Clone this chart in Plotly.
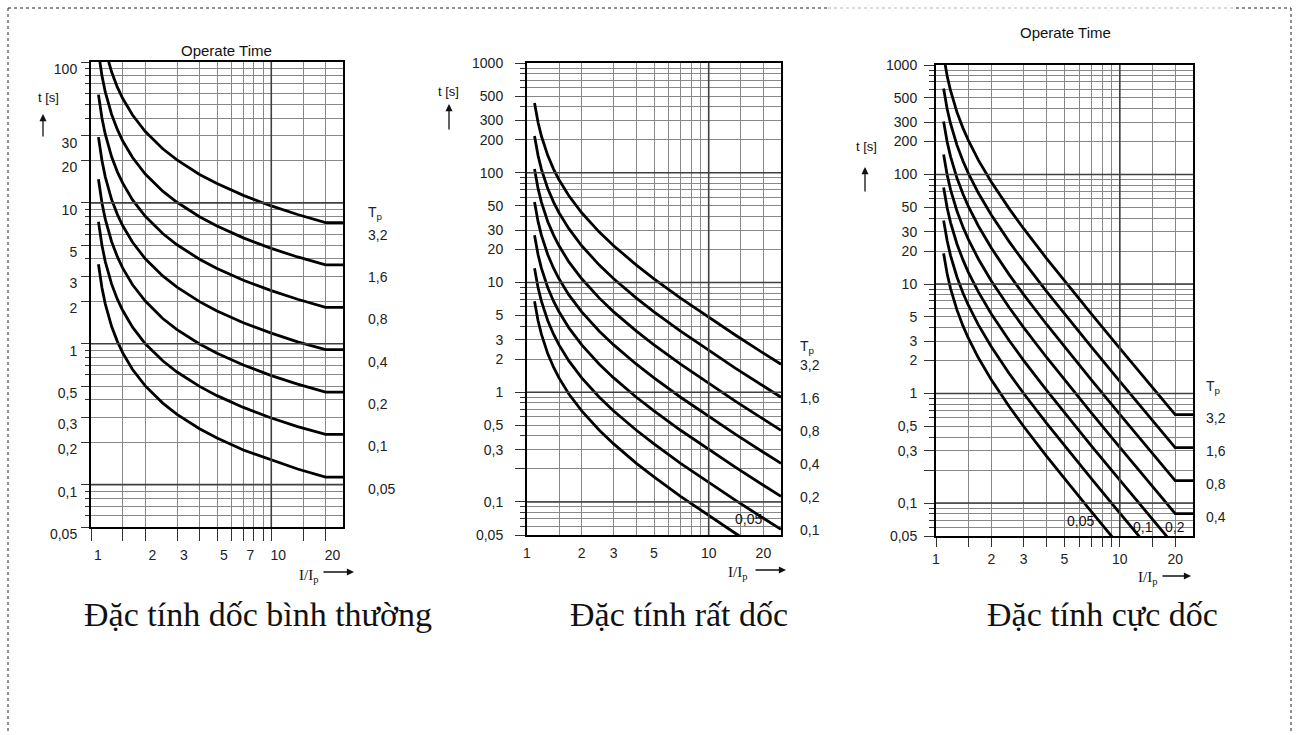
import numpy as np
import plotly.graph_objects as go

W, H = 1298, 735

# ---------------- data ----------------
I_ratio = [1.1, 1.15, 1.2, 1.3, 1.4, 1.5, 1.7, 2, 2.5, 3, 4, 5, 7, 10, 14, 20, 25]
tp_labels = ["3,2", "1,6", "0,8", "0,4", "0,2", "0,1", "0,05"]

# normal inverse
n_32 = [234.8, 160.0, 122.6, 85.2, 66.3, 55.0, 42.0, 32.1, 24.2, 20.2, 15.9, 13.7, 11.3, 9.51, 8.27, 7.25, 7.25]
n_16 = [117.4, 80.0, 61.3, 42.6, 33.2, 27.5, 21.0, 16.0, 12.1, 10.1, 7.97, 6.85, 5.64, 4.75, 4.13, 3.63, 3.63]
n_08 = [58.7, 40.0, 30.7, 21.3, 16.6, 13.8, 10.5, 8.02, 6.06, 5.04, 3.98, 3.42, 2.82, 2.38, 2.07, 1.81, 1.81]
n_04 = [29.3, 20.0, 15.3, 10.6, 8.29, 6.88, 5.25, 4.01, 3.03, 2.52, 1.99, 1.71, 1.41, 1.19, 1.03, 0.907, 0.907]
n_02 = [14.7, 10.0, 7.66, 5.32, 4.15, 3.44, 2.62, 2.01, 1.51, 1.26, 0.996, 0.856, 0.706, 0.594, 0.517, 0.453, 0.453]
n_01 = [7.34, 5.00, 3.83, 2.66, 2.07, 1.72, 1.31, 1.00, 0.757, 0.630, 0.498, 0.428, 0.353, 0.297, 0.258, 0.227, 0.227]
n_005 = [3.67, 2.50, 1.92, 1.33, 1.04, 0.860, 0.656, 0.502, 0.379, 0.315, 0.249, 0.214, 0.176, 0.149, 0.129, 0.113, 0.113]

# very inverse
v_32 = [432, 288, 216, 144, 108, 86.4, 61.7, 43.2, 28.8, 21.6, 14.4, 10.8, 7.2, 4.8, 3.32, 2.27, 1.80]
v_16 = [216, 144, 108, 72, 54, 43.2, 30.9, 21.6, 14.4, 10.8, 7.2, 5.4, 3.6, 2.4, 1.66, 1.14, 0.90]
v_08 = [108, 72, 54, 36, 27, 21.6, 15.4, 10.8, 7.2, 5.4, 3.6, 2.7, 1.8, 1.2, 0.831, 0.568, 0.45]
v_04 = [54, 36, 27, 18, 13.5, 10.8, 7.71, 5.4, 3.6, 2.7, 1.8, 1.35, 0.9, 0.6, 0.415, 0.284, 0.225]
v_02 = [27, 18, 13.5, 9, 6.75, 5.4, 3.86, 2.7, 1.8, 1.35, 0.9, 0.675, 0.45, 0.3, 0.208, 0.142, 0.1125]
v_01 = [13.5, 9, 6.75, 4.5, 3.38, 2.7, 1.93, 1.35, 0.9, 0.675, 0.45, 0.338, 0.225, 0.15, 0.104, 0.0711, 0.0563]
v_005 = [6.75, 4.5, 3.38, 2.25, 1.69, 1.35, 0.964, 0.675, 0.45, 0.338, 0.225, 0.169, 0.1125, 0.075, 0.0519, 0.0355, 0.0281]

# extremely inverse
e_32 = [1219, 794, 582, 371, 266.7, 204.8, 135.4, 85.3, 48.8, 32, 17.07, 10.67, 5.33, 2.586, 1.313, 0.642, 0.642]
e_16 = [609.5, 396.9, 290.9, 185.5, 133.3, 102.4, 67.7, 42.7, 24.4, 16, 8.53, 5.33, 2.67, 1.293, 0.656, 0.321, 0.321]
e_08 = [304.8, 198.4, 145.5, 92.8, 66.7, 51.2, 33.9, 21.3, 12.19, 8, 4.27, 2.67, 1.333, 0.646, 0.328, 0.160, 0.160]
e_04 = [152.4, 99.2, 72.7, 46.4, 33.3, 25.6, 16.93, 10.67, 6.10, 4, 2.133, 1.333, 0.667, 0.323, 0.164, 0.0802, 0.0802]
e_02 = [76.2, 49.6, 36.4, 23.2, 16.7, 12.8, 8.47, 5.33, 3.05, 2, 1.067, 0.667, 0.333, 0.162, 0.0821, 0.0401, 0.0401]
e_01 = [38.1, 24.8, 18.2, 11.6, 8.33, 6.4, 4.23, 2.67, 1.524, 1, 0.533, 0.333, 0.1667, 0.0808, 0.0410, 0.0200, 0.0200]
e_005 = [19.05, 12.4, 9.09, 5.80, 4.17, 3.2, 2.12, 1.333, 0.762, 0.5, 0.267, 0.1667, 0.0833, 0.0404, 0.0205, 0.0100, 0.0100]

x_labels_1 = [1, 2, 3, 5, 7, 10, 20]
x_labels_23 = [1, 2, 3, 5, 10, 20]
y_labels_1 = [100, 30, 20, 10, 5, 3, 2, 1, 0.5, 0.3, 0.2, 0.1, 0.05]
y_labels_23 = [1000, 500, 300, 200, 100, 50, 30, 20, 10, 5, 3, 2, 1, 0.5, 0.3, 0.2, 0.1, 0.05]
y_text_23 = ["1000", "500", "300", "200", "100", "50", "30", "20", "10", "5", "3", "2", "1",
             "0,5", "0,3", "", "0,1", "0,05"]
captions = ["Đặc tính dốc bình thường", "Đặc tính rất dốc", "Đặc tính cực dốc"]

normal_curves = [n_32, n_16, n_08, n_04, n_02, n_01, n_005]
very_curves = [v_32, v_16, v_08, v_04, v_02, v_01, v_005]
extreme_curves = [e_32, e_16, e_08, e_04, e_02, e_01, e_005]

# ---------------- helpers ----------------
def px(x):
    return x / W

def py(y):
    return 1 - y / H

def fmt(v):
    return ("%g" % v).replace(".", ",")

grid_x = [1.5, 2, 3, 4, 5, 6, 7, 8, 9, 10, 15, 20]
grid_y = [round(m * 10.0 ** e, 6) for e in range(-2, 4) for m in range(1, 10)]
grid_y = [v for v in grid_y if 0.05 <= v <= 1000]

SANS = "Liberation Sans, Arial, sans-serif"
SERIF = "Liberation Serif, Times New Roman, serif"
GRID = "#888888"

def x_axis(domain, labels, ticklen, anchor, shift, standoff):
    minor_vals = [v for v in grid_x if v not in labels]
    tk = "outside" if ticklen > 0 else ""
    return dict(
        type="log", domain=domain, range=[0, np.log10(25)], anchor=anchor,
        showline=True, linecolor="black", linewidth=2, mirror=True,
        tickmode="array", tickvals=labels, ticktext=[fmt(v) for v in labels],
        ticks=tk, ticklen=max(ticklen, 1), tickwidth=1, tickcolor="#333",
        showgrid=True, gridcolor=GRID, gridwidth=1, zeroline=False,
        minor=dict(tickmode="array", tickvals=minor_vals,
                   ticks=tk, ticklen=max(ticklen, 1), tickwidth=1,
                   tickcolor="#333", showgrid=True, gridcolor=GRID, gridwidth=1),
        tickfont=dict(family=SANS, size=14, color="#222"),
        ticklabelshift=shift, ticklabelstandoff=standoff, fixedrange=True,
    )

def y_axis(domain, labels, texts, top, anchor, shift, standoff, majlen, minlen):
    lab_r = [round(l, 6) for l in labels]
    minor_vals = [v for v in grid_y if v <= top and round(v, 6) not in lab_r]
    return dict(
        type="log", domain=domain, range=[np.log10(0.05), np.log10(top)], anchor=anchor,
        showline=True, linecolor="black", linewidth=2, mirror=True,
        tickmode="array", tickvals=labels, ticktext=texts,
        ticks="outside", ticklen=majlen, tickwidth=1, tickcolor="#333",
        showgrid=True, gridcolor=GRID, gridwidth=1, zeroline=False,
        minor=dict(tickmode="array", tickvals=minor_vals, ticks="outside",
                   ticklen=minlen, tickwidth=1, tickcolor="#333",
                   showgrid=True, gridcolor=GRID, gridwidth=1),
        tickfont=dict(family=SANS, size=14, color="#222"),
        ticklabelshift=shift, ticklabelstandoff=standoff, fixedrange=True,
    )

fig = go.Figure()

panels = [
    (normal_curves, "x", "y"),
    (very_curves, "x2", "y2"),
    (extreme_curves, "x3", "y3"),
]
for curves, xa, ya in panels:
    for ys in curves:
        fig.add_trace(go.Scatter(
            x=I_ratio, y=ys, mode="lines", xaxis=xa, yaxis=ya,
            line=dict(color="black", width=2.8), showlegend=False, hoverinfo="skip",
        ))

layout = dict(
    width=W, height=H, margin=dict(l=0, r=0, t=0, b=0, autoexpand=False),
    paper_bgcolor="white", plot_bgcolor="white", showlegend=False,
    xaxis=x_axis([px(91), px(343)], x_labels_1, 12, "y", 7, 2),
    yaxis=y_axis([py(527), py(62)], y_labels_1, [fmt(v) for v in y_labels_1], 100, "x", 7, 1, 8, 4),
    xaxis2=x_axis([px(527), px(781)], x_labels_23, 0, "y2", 0, 4),
    yaxis2=y_axis([py(535), py(63)], y_labels_23, y_text_23, 1000, "x2", 0, 9, 10, 5),
    xaxis3=x_axis([px(936), px(1193)], x_labels_23, 9, "y3", 0, 0),
    yaxis3=y_axis([py(536), py(65)], y_labels_23, y_text_23, 1000, "x3", 0, 4, 10, 5),
)
fig.update_layout(**layout)

# darker decade grid lines
shapes = []
DARK = "#404040"
for xa, ya, decs in [("x", "y", [10, 1, 0.1]), ("x2", "y2", [100, 10, 1, 0.1]), ("x3", "y3", [100, 10, 1, 0.1])]:
    for d in decs:
        shapes.append(dict(type="line", xref=xa + " domain", x0=0, x1=1, yref=ya, y0=d, y1=d,
                           line=dict(color=DARK, width=1.6), layer="above"))
    shapes.append(dict(type="line", xref=xa, x0=10, x1=10, yref=ya + " domain", y0=0, y1=1,
                       line=dict(color=DARK, width=1.6), layer="above"))

# dashed outer frame (kept inside the page)
FR = dict(color="#222", width=1, dash="dot")
shapes += [
    dict(type="line", xref="paper", yref="paper", x0=px(8), x1=px(828), y0=py(8), y1=py(8), line=FR),
    dict(type="line", xref="paper", yref="paper", x0=px(828), x1=px(1236), y0=py(8), y1=py(8),
         line=dict(color="#bbbbbb", width=1, dash="dot")),
    dict(type="line", xref="paper", yref="paper", x0=px(1236), x1=px(1291), y0=py(8), y1=py(8), line=FR),
    dict(type="line", xref="paper", yref="paper", x0=px(8), x1=px(8), y0=py(8), y1=py(733), line=FR),
    dict(type="line", xref="paper", yref="paper", x0=px(1291), x1=px(1291), y0=py(8), y1=py(733), line=FR),
]
fig.update_layout(shapes=shapes)

ann = []

def text(x, y, t, size=14, family=SANS, xanchor="center"):
    ann.append(dict(xref="paper", yref="paper", x=px(x), y=py(y), text=t, showarrow=False,
                    font=dict(family=family, size=size, color="#111"), xanchor=xanchor,
                    yanchor="middle"))

def arrow(x, y, ax, ay):
    ann.append(dict(xref="paper", yref="paper", x=px(x), y=py(y), ax=ax, ay=ay, text="",
                    showarrow=True, arrowhead=2, arrowsize=1.1, arrowwidth=1.3, arrowcolor="#111"))

# titles
text(226, 51, "Operate Time", size=15)
text(1065, 33, "Operate Time", size=15)

# y axis titles
text(48, 98, "t [s]", size=13)
arrow(43, 114, 0, 24)
text(448, 92, "t [s]", size=13)
arrow(449, 104, 0, 27)
text(866, 147, "t [s]", size=13)
arrow(865, 167, 0, 26)

# x axis titles
text(308, 576, "I/I<sub>p</sub>", size=15, family=SERIF)
arrow(354, 572, -32, 0)
text(738, 573, "I/I<sub>p</sub>", size=15, family=SERIF)
arrow(786, 570, -32, 0)
text(1147, 578, "I/I<sub>p</sub>", size=15, family=SERIF)
arrow(1191, 576, -30, 0)

# Tp labels on the right
def tp_right(xa, ya, curves, idx, xshift, yshift, tp_shift):
    for k in idx:
        ann.append(dict(xref=xa + " domain", yref=ya, x=1, y=np.log10(curves[k][-1]),
                        xshift=xshift, yshift=yshift, text=tp_labels[k], showarrow=False,
                        xanchor="left", yanchor="middle",
                        font=dict(family=SANS, size=14, color="#222")))
    ann.append(dict(xref=xa + " domain", yref=ya, x=1, y=np.log10(curves[0][-1]),
                    xshift=xshift, yshift=yshift + tp_shift, text="T<sub>p</sub>", showarrow=False,
                    xanchor="left", yanchor="middle",
                    font=dict(family=SANS, size=14, color="#222")))

tp_right("x", "y", normal_curves, range(7), 23, -12, 22)
tp_right("x2", "y2", very_curves, range(6), 17, -1, 18)
tp_right("x3", "y3", extreme_curves, range(4), 11, -3, 31)

# labels inside plots
text(748, 519, "0,05", size=14)
text(1080, 521, "0,05", size=14)
text(1143, 527, "0,1", size=14)
text(1175, 527, "0,2", size=14)

# captions
cap_x = [258, 679, 1102]
for cx, c in zip(cap_x, captions):
    text(cx, 614, c, size=34, family=SERIF)

fig.update_layout(annotations=ann)
fig.write_html("out.html")
